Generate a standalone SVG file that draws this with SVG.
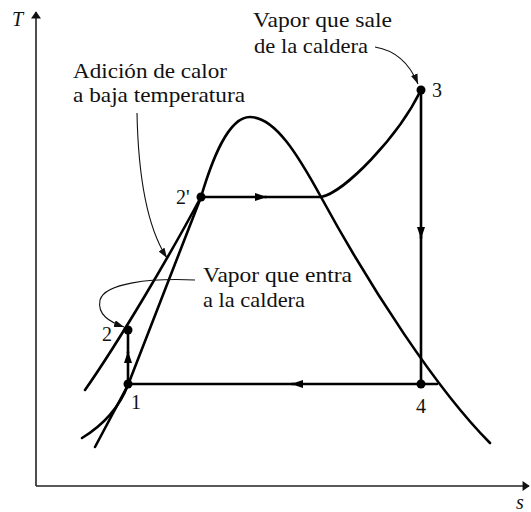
<svg xmlns="http://www.w3.org/2000/svg" width="531" height="512" viewBox="0 0 531 512">
<style>
.ax{stroke:#222;stroke-width:1.6;fill:none}
.th{stroke:#000;stroke-width:2.6;fill:none;stroke-linecap:round}
.ld{stroke:#111;stroke-width:1.1;fill:none}
.lb{font-family:"Liberation Serif","Times New Roman",serif;font-size:22px;fill:#111}
.num{font-family:"Liberation Serif","Times New Roman",serif;font-size:20px;fill:#111}
.it{font-family:"Liberation Serif","Times New Roman",serif;font-size:20px;font-style:italic;fill:#111}
.dot{fill:#000}
</style>
<defs>
<marker id="arr" viewBox="0 0 12 8" refX="11" refY="4" markerWidth="12" markerHeight="8" markerUnits="userSpaceOnUse" orient="auto">
<path d="M0,0 L12,4 L0,8 Z" fill="#000"/>
</marker>
<marker id="axa" viewBox="0 0 10 14" refX="9" refY="7" markerWidth="14" markerHeight="10" markerUnits="userSpaceOnUse" orient="auto">
<path d="M0,0 L10,7 L0,14 Z" fill="#111"/>
</marker>
<marker id="lda" viewBox="0 0 10 7" refX="10" refY="3.5" markerWidth="10" markerHeight="7" markerUnits="userSpaceOnUse" orient="auto">
<path d="M0,0 L10,3.5 L0,7 Z" fill="#111"/>
</marker>
</defs>

<g id="axes">
<path class="ax" d="M36,486 L36,12" marker-end="url(#axa)"/>
<path class="ax" d="M36,486 L529,486" marker-end="url(#axa)"/>
<text class="it" x="12" y="26">T</text>
<text class="it" x="516" y="509">s</text>
</g>

<g id="dome">
<path class="th" d="M95,447 L128,385 L201,197 C212,160 228,117 250,117 C275,117 298,155 321,197 C370,287 437,390 490,443"/>
<path class="th" d="M82,438 Q115,418 128,385"/>
<path class="th" d="M85,390 C120,340 170,255 201,197"/>
</g>

<g id="connectors">
<path class="th" d="M128,384 L128,352" marker-end="url(#arr)"/>
<path class="th" d="M128,353 L128,330"/>
<path class="th" d="M201,197 L266,197" marker-end="url(#arr)"/>
<path class="th" d="M265,197 L321,197"/>
<path class="th" d="M321,197 C345,192 398,137 421,90"/>
<path class="th" d="M421,90 L421,238" marker-end="url(#arr)"/>
<path class="th" d="M421,236 L421,384"/>
<path class="th" d="M437,384 L292,384" marker-end="url(#arr)"/>
<path class="th" d="M294,384 L128,384"/>
<path class="ld" d="M137,113 Q139,215 167,258" marker-end="url(#lda)"/>
<path class="ld" d="M375,47 Q405,52 418,84" marker-end="url(#lda)"/>
<path class="ld" d="M195,280 C150,278 105,283 100,300 C97,315 110,322 124,327" marker-end="url(#lda)"/>
</g>

<g id="p1"><circle class="dot" cx="128" cy="384" r="4.5"/><text class="num" x="131" y="409">1</text></g>
<g id="p2"><circle class="dot" cx="128" cy="330" r="4.5"/><text class="num" x="102" y="341">2</text></g>
<g id="p2p"><circle class="dot" cx="201" cy="197" r="4.5"/><text class="num" x="176" y="204">2'</text></g>
<g id="p3"><circle class="dot" cx="421" cy="90" r="4.5"/><text class="num" x="432" y="97">3</text></g>
<g id="p4"><circle class="dot" cx="421" cy="384" r="4.5"/><text class="num" x="416" y="413">4</text></g>

<g id="label-low">
<text class="lb" x="73" y="78" textLength="154" lengthAdjust="spacingAndGlyphs">Adición de calor</text>
<text class="lb" x="73" y="102" textLength="172" lengthAdjust="spacingAndGlyphs">a baja temperatura</text>
</g>
<g id="label-sale">
<text class="lb" x="253" y="27" textLength="139" lengthAdjust="spacingAndGlyphs">Vapor que sale</text>
<text class="lb" x="254" y="53" textLength="114" lengthAdjust="spacingAndGlyphs">de la caldera</text>
</g>
<g id="label-entra">
<text class="lb" x="203" y="282" textLength="149" lengthAdjust="spacingAndGlyphs">Vapor que entra</text>
<text class="lb" x="203" y="307" textLength="102" lengthAdjust="spacingAndGlyphs">a la caldera</text>
</g>
</svg>
